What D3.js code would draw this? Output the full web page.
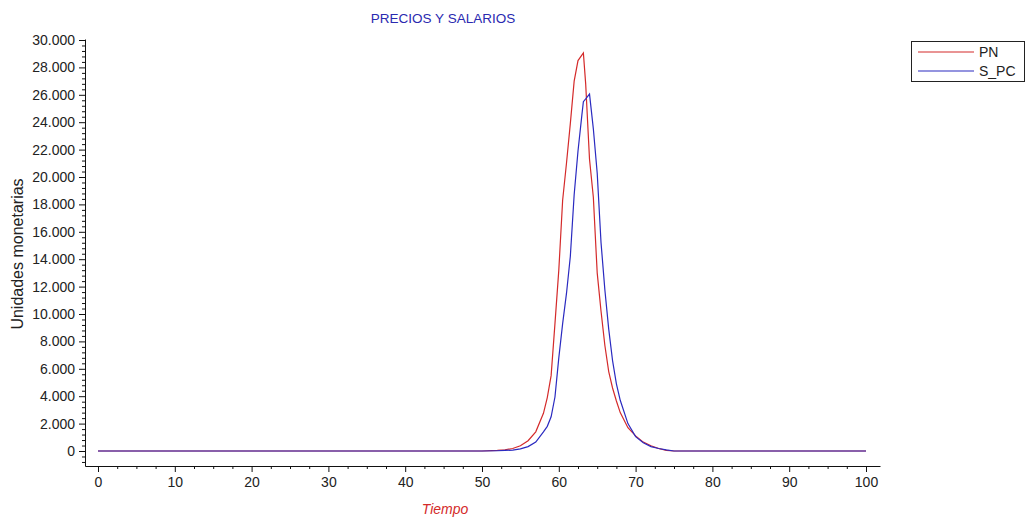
<!DOCTYPE html>
<html>
<head>
<meta charset="utf-8">
<script src="https://cdn.jsdelivr.net/npm/d3@7"></script>
<style>
  body { margin: 0; background: #fff; }
  text { font-family: "Liberation Sans", Arial, sans-serif; }
</style>
</head>
<body>
<script>
// time points (the series are flat at 0 outside the peak)
const tiempo = [0, 50, 52, 53, 54, 55, 56, 57, 58, 58.5, 59, 59.5, 60, 60.5, 61, 61.5, 62, 62.5, 63, 63.2, 63.5, 64, 64.5, 65, 65.5, 66, 66.5, 67, 67.5, 68, 69, 70, 71, 72, 73, 74, 75, 100];
const pn   = [0, 0, 40, 90, 180, 380, 750, 1400, 2750, 3900, 5500, 9300, 13200, 18300, 21000, 23900, 27000, 28500, 28900, 29050, 26800, 21300, 18500, 13000, 10200, 7700, 5800, 4600, 3650, 2800, 1700, 1100, 650, 380, 180, 40, 0, 0];
const s_pc = [0, 0, 20, 40, 70, 150, 320, 650, 1400, 1800, 2500, 3940, 6800, 9300, 11500, 14200, 18700, 21900, 24500, 25500, 25700, 26050, 23500, 20290, 15200, 11750, 8900, 6600, 4900, 3700, 2000, 1050, 600, 320, 180, 80, 0, 0];

const seriesNames = ["PN", "S_PC"];
const seriesColors = ["#d42a2a", "#2a2ac0"];

const xTicks = [0, 10, 20, 30, 40, 50, 60, 70, 80, 90, 100];
const yTicks = [0, 2000, 4000, 6000, 8000, 10000, 12000, 14000, 16000, 18000, 20000, 22000, 24000, 26000, 28000, 30000];

const W = 1026, H = 522;

const svg = d3.select("body").append("svg")
    .attr("width", W)
    .attr("height", H)
    .style("background", "#fff");

// data scales
const x = d3.scaleLinear().domain([0, 100]).range([98, 866]);
const y = d3.scaleLinear().domain([0, 30000]).range([451, 40]);

// axis scales: same mapping, stretched to the axis line ends
const xAx = d3.scaleLinear().domain([x.invert(85), x.invert(880)]).range([85, 880]);
const yAx = d3.scaleLinear().domain([y.invert(466), y.invert(39)]).range([466, 39]);

const fmt = d3.formatLocale({decimal: ",", thousands: ".", grouping: [3], currency: ["", ""]}).format(",d");

// minor ticks
const xMinor = d3.range(0, 100.01, 2.5).filter(v => v % 10 !== 0);
const yMinor = d3.range(-800, 30001, 400).filter(v => v % 2000 !== 0);

svg.append("g")
    .attr("transform", "translate(0,466)")
    .call(d3.axisBottom(xAx).tickValues(xMinor).tickSize(3).tickFormat("").tickSizeOuter(0))
    .call(g => g.select(".domain").remove());

svg.append("g")
    .attr("transform", "translate(85,0)")
    .call(d3.axisLeft(yAx).tickValues(yMinor).tickSize(3).tickFormat("").tickSizeOuter(0))
    .call(g => g.select(".domain").remove());

const xAxis = svg.append("g")
    .attr("transform", "translate(0,466)")
    .call(d3.axisBottom(xAx).tickValues(xTicks).tickSize(6).tickPadding(5).tickSizeOuter(0));

const yAxis = svg.append("g")
    .attr("transform", "translate(85,0)")
    .call(d3.axisLeft(yAx).tickValues(yTicks).tickFormat(fmt).tickSize(6).tickPadding(4).tickSizeOuter(0));

svg.selectAll(".tick text")
    .attr("font-family", "Liberation Sans, Arial, sans-serif")
    .attr("font-size", 14)
    .attr("fill", "#222");
svg.selectAll(".domain, .tick line").attr("stroke", "#111");

// lines
const seriesVals = [pn, s_pc];
const line = d3.line()
    .x((d, i) => x(tiempo[i]))
    .y(d => y(d));

svg.append("g").selectAll("path.serie")
    .data(seriesVals)
    .join("path")
    .attr("class", "serie")
    .attr("d", d => line(d))
    .attr("fill", "none")
    .attr("stroke", (d, i) => seriesColors[i])
    .attr("stroke-width", 1.2);

// titles
svg.append("text")
    .attr("x", 443).attr("y", 23)
    .attr("text-anchor", "middle")
    .attr("font-size", 13.5)
    .attr("fill", "#2a2ab0")
    .text("PRECIOS Y SALARIOS");

svg.append("text")
    .attr("transform", "translate(23,254) rotate(-90)")
    .attr("text-anchor", "middle")
    .attr("font-size", 16)
    .attr("fill", "#222")
    .text("Unidades monetarias");

svg.append("text")
    .attr("x", 445).attr("y", 514)
    .attr("text-anchor", "middle")
    .attr("font-size", 14)
    .attr("font-style", "italic")
    .attr("fill", "#d42a2a")
    .text("Tiempo");

// legend
const legend = svg.append("g");
legend.append("rect")
    .attr("x", 911.5).attr("y", 41.5)
    .attr("width", 113).attr("height", 40)
    .attr("fill", "#fff")
    .attr("stroke", "#222");

const items = legend.selectAll("g.item")
    .data(seriesNames)
    .join("g")
    .attr("class", "item")
    .attr("transform", (d, i) => "translate(0," + (52 + i * 19) + ")");

items.append("line")
    .attr("x1", 918).attr("x2", 974)
    .attr("stroke", (d, i) => seriesColors[i])
    .attr("stroke-width", 1.2);

items.append("text")
    .attr("x", 979).attr("y", 5)
    .attr("font-size", 14)
    .attr("fill", "#222")
    .text(d => d);
</script>
</body>
</html>
